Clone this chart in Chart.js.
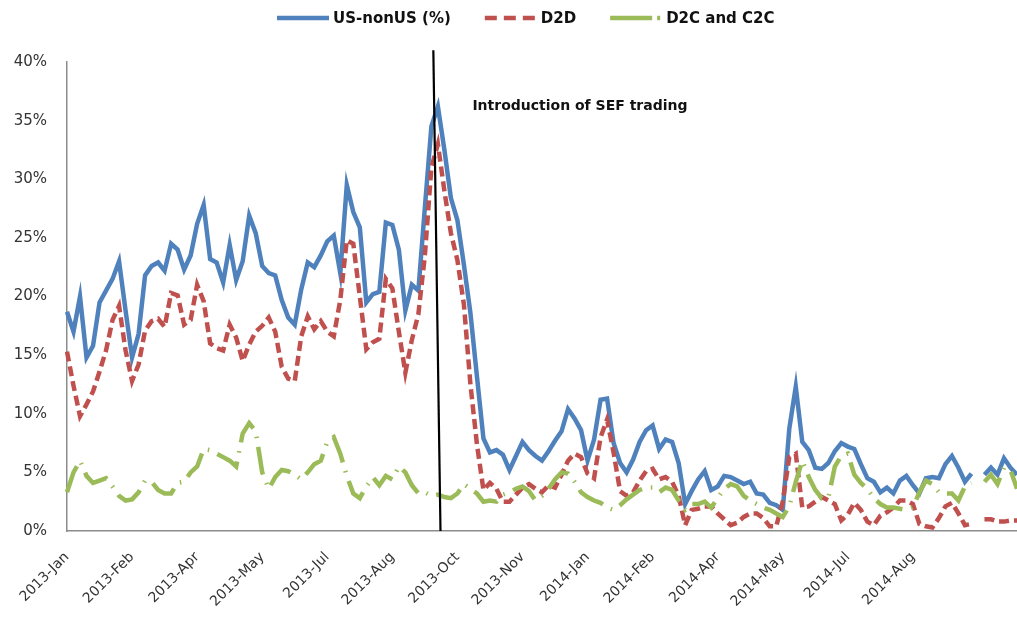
<!DOCTYPE html>
<html>
<head>
<meta charset="utf-8">
<script src="https://cdn.jsdelivr.net/npm/chart.js@4/dist/chart.umd.min.js"></script>
<style>
  body { margin: 0; background: #fff; }
  #wrap { width: 1017px; height: 624px; position: relative; }
</style>
</head>
<body>
<div id="wrap"><canvas id="myChart"></canvas></div>
<script>
// month labels shown every 10th point on the x axis
const tickLabels = ['2013-Jan', '2013-Feb', '2013-Apr', '2013-May', '2013-Jul', '2013-Aug', '2013-Oct',
  '2013-Nov', '2014-Jan', '2014-Feb', '2014-Apr', '2014-May', '2014-Jul', '2014-Aug'];
const labelEvery = 10;

const usNonUs = [
  18.7, 17.0, 20.0, 14.8, 15.8, 19.5, 20.5, 21.5, 23.0, 18.8,
  14.8, 16.8, 21.8, 22.6, 22.9, 22.2, 24.5, 24.0, 22.3, 23.5,
  26.2, 27.8, 23.2, 22.9, 21.2, 24.4, 21.4, 23.0, 26.9, 25.4,
  22.6, 22.0, 21.8, 19.7, 18.2, 17.6, 20.6, 22.9, 22.5, 23.5,
  24.7, 25.2, 22.0, 29.5, 27.2, 25.9, 19.5, 20.2, 20.4, 26.3,
  26.1, 24.0, 18.8, 21.0, 20.5, 27.6, 34.5, 36.2, 32.5, 28.4,
  26.5, 22.7, 18.6, 13.2, 7.9, 6.7, 6.9, 6.5, 5.2, 6.4,
  7.6, 6.9, 6.4, 6.0, 6.8, 7.7, 8.5, 10.4, 9.6, 8.6,
  6.0, 7.8, 11.2, 11.3, 7.5, 5.8, 5.0, 6.1, 7.6, 8.6,
  9.0, 7.0, 7.8, 7.6, 5.8, 2.3, 3.4, 4.4, 5.1, 3.5,
  3.8, 4.7, 4.6, 4.3, 4.0, 4.2, 3.2, 3.1, 2.4, 2.2,
  1.8, 8.7, 12.3, 7.6, 6.9, 5.4, 5.3, 5.8, 6.8, 7.5,
  7.2, 7.0, 5.7, 4.5, 4.2, 3.3, 3.7, 3.2, 4.3, 4.7,
  3.9, 3.2, 4.5, 4.6, 4.5, 5.7, 6.4, 5.4, 4.2, 4.9,
  5.5, 4.8, 5.4, 4.8, 6.2, 5.4, 4.8
];

const d2d = [
  15.3, 12.4, 9.8, 10.8, 11.9, 13.6, 15.4, 18.0, 19.2, 15.4,
  12.8, 14.2, 17.1, 17.9, 18.1, 17.4, 20.3, 20.1, 17.6, 18.0,
  21.0, 19.6, 16.0, 15.6, 15.4, 17.6, 16.5, 14.5, 15.9, 17.0,
  17.5, 18.2, 17.0, 14.0, 13.0, 12.8, 16.6, 18.3, 17.2, 17.9,
  17.0, 16.6, 19.7, 24.8, 24.5, 20.0, 15.5, 16.1, 16.4, 21.5,
  20.7, 17.0, 13.5, 16.3, 18.5, 23.5, 31.0, 33.0, 29.0, 25.4,
  23.1, 19.3, 12.5, 7.4, 3.5, 4.1, 3.6, 2.5, 2.5, 3.1,
  3.7, 4.0, 3.6, 3.3, 3.9, 3.7, 4.8, 6.0, 6.6, 6.3,
  4.9, 4.5, 8.0, 9.5, 6.7, 3.4, 3.0, 3.3, 4.3, 5.1,
  5.3, 4.4, 4.6, 4.2, 3.0, 0.5, 1.8, 1.9, 2.1, 2.1,
  1.5, 1.0, 0.5, 0.7, 1.2, 1.5, 1.5, 1.1, 0.4, 0.4,
  2.5, 6.3, 6.6, 2.0, 2.1, 2.5, 2.9, 2.6, 2.3, 0.9,
  1.4, 2.4, 1.8, 0.8, 0.5, 1.3, 1.6, 2.0, 2.6, 2.6,
  2.3, 0.6, 0.4, 0.3, 1.1, 2.1, 2.4, 1.5, 0.5, 0.6,
  0.8, 1.0, 1.0, 0.8, 0.8, 0.9, 0.9
];

const d2cC2c = [
  3.3, 5.0, 6.0, 4.7, 4.1, 4.3, 4.5, 3.8, 3.0, 2.6,
  2.7, 3.3, 4.3, 4.2, 3.5, 3.2, 3.2, 4.1, 4.2, 5.0,
  5.5, 7.0, 6.9, 6.6, 6.3, 6.0, 5.5, 8.3, 9.2, 8.5,
  5.0, 3.6, 4.6, 5.2, 5.1, 4.8, 4.4, 5.0, 5.7, 6.0,
  7.6, 8.0, 6.6, 4.7, 3.2, 2.8, 3.8, 4.6, 3.9, 4.7,
  4.4, 5.5, 5.0, 3.9, 3.2, 3.3, 3.0, 3.1, 2.9, 2.8,
  3.2, 4.0, 3.6, 3.2, 2.5, 2.6, 2.5, 3.1, 3.3, 3.6,
  3.8, 3.4, 2.6, 3.0, 3.6, 4.4, 5.0, 4.9, 4.2, 3.3,
  2.9, 2.6, 2.4, 2.0, 1.8, 2.2, 2.7, 3.1, 3.5, 3.7,
  3.7, 3.3, 3.7, 3.5, 2.6, 1.8, 2.3, 2.3, 2.5, 2.0,
  2.8, 3.6, 4.0, 3.8, 3.0, 2.6, 2.3, 2.0, 1.8, 1.5,
  1.2, 2.1, 4.2, 6.0, 4.6, 3.5, 2.8, 2.8, 5.5, 6.4,
  6.6, 4.8, 4.1, 3.6, 2.8, 2.3, 2.0, 2.0, 1.9, 1.8,
  2.0, 3.3, 4.3, 4.0, 3.3, 3.2, 3.2, 2.6, 3.8, 4.1,
  3.7, 4.2, 4.8, 4.0, 5.4, 5.2, 3.6
];

const yTicks = [0, 5, 10, 15, 20, 25, 30, 35, 40];

// SEF marker: x in point index, y in percent
const sefMarker = { label: 'Introduction of SEF trading', topIndex: 56.3, bottomIndex: 57.4, topValue: 41, bottomValue: 0, textIndex: 62.3, textValue: 36.2 };

const categories = usNonUs.map((v, i) => (i % labelEvery === 0 ? tickLabels[i / labelEvery] : ''));

const font = '"DejaVu Sans", sans-serif';

// legend drawn along the top, uses each dataset's line style
const topLegend = {
  id: 'topLegend',
  afterDraw(chart) {
    const ctx = chart.ctx;
    let x = 277;
    const y = 18;
    ctx.save();
    ctx.font = 'bold 15px ' + font;
    ctx.textBaseline = 'middle';
    chart.data.datasets.forEach(ds => {
      ctx.beginPath();
      ctx.strokeStyle = ds.borderColor;
      ctx.lineWidth = ds.borderWidth;
      ctx.setLineDash(ds.legendDash || []);
      ctx.moveTo(x, y);
      ctx.lineTo(x + 52, y);
      ctx.stroke();
      ctx.setLineDash([]);
      ctx.fillStyle = '#111';
      ctx.fillText(ds.label, x + 56, y + 1);
      x += 56 + ctx.measureText(ds.label).width + 34;
    });
    ctx.restore();
  }
};

const sefLine = {
  id: 'sefLine',
  afterDatasetsDraw(chart) {
    const xs = chart.scales.x, ys = chart.scales.y, ctx = chart.ctx;
    ctx.save();
    ctx.beginPath();
    ctx.strokeStyle = '#000';
    ctx.lineWidth = 2.2;
    ctx.moveTo(xs.getPixelForValue(sefMarker.topIndex), ys.getPixelForValue(sefMarker.topValue));
    ctx.lineTo(xs.getPixelForValue(sefMarker.bottomIndex), ys.getPixelForValue(sefMarker.bottomValue));
    ctx.stroke();
    ctx.font = 'bold 14px ' + font;
    ctx.fillStyle = '#111';
    ctx.textBaseline = 'middle';
    ctx.fillText(sefMarker.label, xs.getPixelForValue(sefMarker.textIndex), ys.getPixelForValue(sefMarker.textValue));
    ctx.restore();
  }
};

const ctx = document.getElementById('myChart');
new Chart(ctx, {
  type: 'line',
  data: {
    labels: categories,
    datasets: [
      {
        label: 'US-nonUS (%)',
        data: usNonUs,
        borderColor: '#4F81BD',
        borderWidth: 4.5,
        legendDash: [],
        pointRadius: 0,
        tension: 0,
        order: 3
      },
      {
        label: 'D2D',
        data: d2d,
        borderColor: '#C0504D',
        borderWidth: 4.5,
        borderDash: [10, 5],
        legendDash: [12, 7],
        pointRadius: 0,
        tension: 0,
        order: 2
      },
      {
        label: 'D2C and C2C',
        data: d2cC2c,
        borderColor: '#9BBB59',
        borderWidth: 4.5,
        borderDash: [28, 9, 1.5, 9],
        legendDash: [42, 5, 3, 5],
        pointRadius: 0,
        tension: 0,
        order: 1
      }
    ]
  },
  options: {
    responsive: true,
    maintainAspectRatio: false,
    animation: false,
    layout: { padding: { top: 62, right: 0, bottom: 0, left: 0 } },
    plugins: {
      legend: { display: false },
      tooltip: { enabled: false }
    },
    scales: {
      x: {
        grid: { display: false, drawTicks: false },
        border: { display: true, color: '#8c8c8c', width: 1.5 },
        ticks: {
          autoSkip: false,
          minRotation: 45,
          maxRotation: 45,
          padding: 18,
          color: '#333',
          font: { family: font, size: 14 }
        },
        afterFit(scale) {
          scale.height = 93;
          scale.paddingLeft = 0;
          scale.paddingRight = 0;
        }
      },
      y: {
        min: 0,
        max: 40,
        afterBuildTicks(scale) {
          scale.ticks = yTicks.map(v => ({ value: v }));
        },
        grid: { display: false, drawTicks: false },
        border: { display: true, color: '#8c8c8c', width: 1.5 },
        ticks: {
          padding: 20,
          color: '#333',
          font: { family: font, size: 15 },
          callback: v => v + '%'
        },
        afterFit(scale) {
          scale.width = 67;
          scale.paddingTop = 0;
          scale.paddingBottom = 0;
        }
      }
    }
  },
  plugins: [topLegend, sefLine]
});
</script>
</body>
</html>
